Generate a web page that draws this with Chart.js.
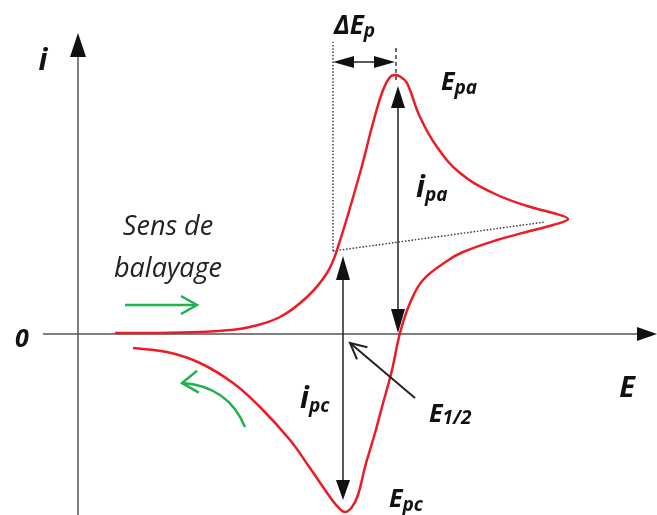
<!DOCTYPE html>
<html>
<head>
<meta charset="utf-8">
<script src="https://cdn.jsdelivr.net/npm/chart.js@4"></script>
<style>
  html, body { margin: 0; padding: 0; background: #fff; }
  #wrap { width: 657px; height: 515px; position: relative; }
</style>
</head>
<body>
<div id="wrap"><canvas id="cv"></canvas></div>
<script>
// Cyclic voltammogram: potential E (arbitrary units) vs current i (arbitrary units)

// Forward (anodic) sweep
const forwardE = [0.37, 0.72, 1.22, 1.52, 1.72, 2.02, 2.29, 2.49, 2.59, 2.82, 2.95, 3.05, 3.12, 3.17, 3.23, 3.29, 3.42, 3.59, 3.82, 4.15, 4.49, 4.75, 4.90];
const forwardI = [0.01, 0.01, 0.02, 0.04, 0.07, 0.17, 0.37, 0.61, 0.84, 1.61, 2.11, 2.44, 2.57, 2.59, 2.57, 2.51, 2.17, 1.87, 1.61, 1.41, 1.28, 1.21, 1.15];

// Reverse (cathodic) sweep
const reverseE = [4.75, 4.52, 4.19, 3.85, 3.69, 3.45, 3.32, 3.22, 3.14, 3.04, 2.97, 2.87, 2.80, 2.74, 2.67, 2.60, 2.52, 2.32, 2.12, 1.82, 1.55, 1.22, 0.89, 0.55];
const reverseI = [1.09, 1.03, 0.94, 0.82, 0.73, 0.54, 0.31, 0.01, -0.36, -0.73, -0.99, -1.33, -1.61, -1.73, -1.78, -1.73, -1.63, -1.34, -1.06, -0.73, -0.49, -0.29, -0.18, -0.14];

// Axis extents
const axisE = [-0.35, 5.79];
const axisI = [-1.81, 3.01];

// Construction lines
const baselineE = [2.55, 4.67];     // capacitive baseline under the anodic peak
const baselineI = [0.83, 1.12];
const ipaE = 3.20, ipcE = 2.65;     // positions of the peak-current arrows

// Label texts
const axisLabels = ['i', '0', 'E'];
const markerLabels = [['\u0394E', 'p'], ['E', 'pa'], ['i', 'pa'], ['i', 'pc'], ['E', '1/2'], ['E', 'pc']];
const sweepLabel = ['Sens de', 'balayage'];

const points = [];
forwardE.forEach((e, k) => points.push({ x: e, y: forwardI[k] }));
reverseE.forEach((e, k) => points.push({ x: e, y: reverseI[k] }));

const RED = 'rgb(236,28,36)';
const GREEN = 'rgb(34,177,76)';
const INK = '#111';
const FONT = '"Open Sans", Lato, sans-serif';

function head(ctx, tx, ty, dx, dy, len, hw) {
  const n = Math.hypot(dx, dy); dx /= n; dy /= n;
  const bx = tx - dx * len, by = ty - dy * len;
  ctx.beginPath();
  ctx.moveTo(tx, ty);
  ctx.lineTo(bx - dy * hw, by + dx * hw);
  ctx.lineTo(bx + dy * hw, by - dx * hw);
  ctx.closePath();
  ctx.fill();
}
function openHead(ctx, tx, ty, dx, dy, len, hw) {
  const n = Math.hypot(dx, dy); dx /= n; dy /= n;
  const bx = tx - dx * len, by = ty - dy * len;
  ctx.beginPath();
  ctx.moveTo(bx - dy * hw, by + dx * hw);
  ctx.lineTo(tx, ty);
  ctx.lineTo(bx + dy * hw, by - dx * hw);
  ctx.stroke();
}
function subText(ctx, main, sub, x, y, size, subSize, drop) {
  ctx.font = `italic bold ${size}px ${FONT}`;
  ctx.fillText(main, x, y);
  const w = ctx.measureText(main).width;
  ctx.font = `italic bold ${subSize}px ${FONT}`;
  ctx.fillText(sub, x + w, y + drop);
}

const diagram = {
  id: 'diagram',
  beforeDatasetsDraw(chart) {
    const ctx = chart.ctx, X = chart.scales.x, Y = chart.scales.y;
    const px = v => X.getPixelForValue(v), py = v => Y.getPixelForValue(v);
    ctx.save();
    // axes
    ctx.strokeStyle = '#555'; ctx.lineWidth = 1.5; ctx.fillStyle = INK;
    ctx.beginPath();
    ctx.moveTo(px(0), py(axisI[0])); ctx.lineTo(px(0), py(axisI[1]) + 10);
    ctx.moveTo(px(axisE[0]), py(0)); ctx.lineTo(px(axisE[1]) - 10, py(0));
    ctx.stroke();
    head(ctx, px(0), py(axisI[1]), 0, -1, 24, 8);
    head(ctx, px(axisE[1]), py(0), 1, 0, 20, 7);

    // dotted construction lines
    ctx.strokeStyle = '#333'; ctx.lineWidth = 1.4; ctx.setLineDash([1.5, 1.8]);
    ctx.beginPath();
    ctx.moveTo(px(baselineE[0]), py(baselineI[0]));
    ctx.lineTo(px(baselineE[0]), py(2.92));
    ctx.moveTo(px(baselineE[0]), py(baselineI[0]));
    ctx.lineTo(px(baselineE[1]), py(baselineI[1]));
    ctx.stroke();
    // peak marker tick
    ctx.setLineDash([4, 3]);
    ctx.beginPath();
    ctx.moveTo(px(3.18), py(2.86)); ctx.lineTo(px(3.18), py(2.52));
    ctx.stroke();
    ctx.restore();
  },
  afterDatasetsDraw(chart) {
    const ctx = chart.ctx, X = chart.scales.x, Y = chart.scales.y;
    const px = v => X.getPixelForValue(v), py = v => Y.getPixelForValue(v);
    ctx.save();
    ctx.strokeStyle = '#222'; ctx.fillStyle = INK; ctx.lineWidth = 1.5;

    // ΔEp double arrow
    const yd = py(2.72);
    ctx.beginPath(); ctx.moveTo(px(baselineE[0]) + 12, yd); ctx.lineTo(px(3.17) - 12, yd); ctx.stroke();
    head(ctx, px(baselineE[0]), yd, -1, 0, 21, 6);
    head(ctx, px(3.17), yd, 1, 0, 21, 6);

    // ipa double arrow
    ctx.beginPath(); ctx.moveTo(px(ipaE), py(2.40)); ctx.lineTo(px(ipaE), py(0.1)); ctx.stroke();
    head(ctx, px(ipaE), py(2.48), 0, -1, 22, 7);
    head(ctx, px(ipaE), py(0.01), 0, 1, 24, 7);

    // ipc double arrow
    ctx.beginPath(); ctx.moveTo(px(ipcE), py(0.7)); ctx.lineTo(px(ipcE), py(-1.56)); ctx.stroke();
    head(ctx, px(ipcE), py(0.78), 0, -1, 24, 7);
    head(ctx, px(ipcE), py(-1.66), 0, 1, 20, 7);

    // E1/2 pointer
    ctx.lineWidth = 2;
    const tx = px(2.72), ty = py(-0.09), sx = px(3.37), sy = py(-0.64);
    ctx.beginPath(); ctx.moveTo(sx, sy); ctx.lineTo(tx, ty); ctx.stroke();
    openHead(ctx, tx, ty, tx - sx, ty - sy, 16, 8);

    // sweep direction arrows
    ctx.strokeStyle = GREEN; ctx.lineWidth = 2.5;
    ctx.beginPath(); ctx.moveTo(px(0.47), py(0.29)); ctx.lineTo(px(1.18), py(0.29)); ctx.stroke();
    openHead(ctx, px(1.19), py(0.29), 1, 0, 16, 9);
    ctx.beginPath();
    ctx.moveTo(px(1.67), py(-0.93));
    ctx.quadraticCurveTo(px(1.50), py(-0.52), px(1.04), py(-0.49));
    ctx.stroke();
    openHead(ctx, px(1.04), py(-0.49), -1, 0.08, 16, 11);

    // text
    ctx.fillStyle = INK;
    ctx.textAlign = 'center';
    ctx.font = `italic bold 30px ${FONT}`;
    ctx.fillText(axisLabels[0], 43, 70);
    ctx.font = `italic bold 25px ${FONT}`;
    ctx.fillText(axisLabels[1], 22, 347);
    ctx.font = `italic bold 29px ${FONT}`;
    ctx.fillText(axisLabels[2], 627, 397);

    ctx.textAlign = 'left';
    subText(ctx, markerLabels[0][0], markerLabels[0][1], 334, 34, 26, 19, 3);
    subText(ctx, markerLabels[1][0], markerLabels[1][1], 441, 90, 25, 19, 4);
    subText(ctx, markerLabels[2][0], markerLabels[2][1], 416, 197, 30, 19, 4);
    subText(ctx, markerLabels[3][0], markerLabels[3][1], 300, 408, 30, 19, 4);
    subText(ctx, markerLabels[4][0], markerLabels[4][1], 429, 422, 25, 19, 2);
    subText(ctx, markerLabels[5][0], markerLabels[5][1], 389, 507, 25, 19, 4);

    ctx.fillStyle = '#222';
    ctx.textAlign = 'center';
    ctx.font = `italic 27px ${FONT}`;
    ctx.fillText(sweepLabel[0], 168, 235);
    ctx.fillText(sweepLabel[1], 168, 277);
    ctx.restore();
  }
};

new Chart(document.getElementById('cv'), {
  type: 'scatter',
  data: {
    datasets: [{
      data: points,
      showLine: true,
      borderColor: RED,
      borderWidth: 2.5,
      pointRadius: 0,
      tension: 0.4,
      fill: false
    }]
  },
  options: {
    responsive: true,
    maintainAspectRatio: false,
    animation: false,
    layout: { padding: 0 },
    plugins: { legend: { display: false }, tooltip: { enabled: false } },
    scales: {
      x: { type: 'linear', min: -0.78, max: 5.79, display: false },
      y: { type: 'linear', min: -1.81, max: 3.34, display: false }
    }
  },
  plugins: [diagram]
});
</script>
</body>
</html>
